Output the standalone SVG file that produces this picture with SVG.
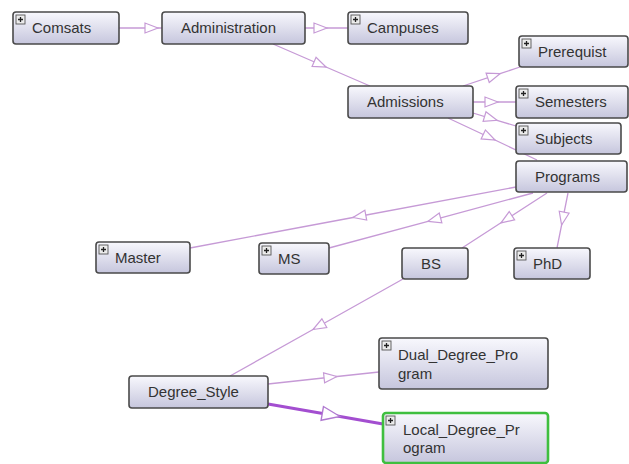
<svg xmlns="http://www.w3.org/2000/svg" width="629" height="464" viewBox="0 0 629 464">
  <defs>
    <linearGradient id="boxFill" x1="0" y1="0" x2="0" y2="1">
      <stop offset="0" stop-color="#f8f8fd"/>
      <stop offset="1" stop-color="#c6c6dd"/>
    </linearGradient>
    <marker id="tri" markerUnits="userSpaceOnUse" markerWidth="16" markerHeight="12" refX="0" refY="0" orient="auto" overflow="visible">
      <path d="M0,0 L-13,-5 L-13,5 Z" fill="#ffffff" stroke="#c69ad6" stroke-width="1.2" stroke-linejoin="miter"/>
    </marker>
    <marker id="triBold" markerUnits="userSpaceOnUse" markerWidth="22" markerHeight="16" refX="0" refY="0" orient="auto" overflow="visible">
      <path d="M0,0 L-18,-7 L-18,7 Z" fill="#ffffff" stroke="#b07ad0" stroke-width="1.4"/>
    </marker>
    <g id="plus">
      <rect x="0" y="0" width="9" height="9" fill="#ececec" stroke="#555" stroke-width="0.9"/>
      <path d="M2,4.5 H7 M4.5,2 V7" stroke="#222" stroke-width="1.3"/>
    </g>
  </defs>
  <style>
    .edge { fill: none; stroke: #c69ad6; stroke-width: 1.3; marker-mid: url(#tri); }
    .edge-bold { fill: none; stroke: #a34ed0; stroke-width: 3.2; marker-mid: url(#triBold); }
    .box { fill: url(#boxFill); stroke: #4a4a4a; stroke-width: 1.6; }
    .box-sel { fill: url(#boxFill); stroke: #3fbf3f; stroke-width: 2.6; }
    .label { font-family: "Liberation Sans", Arial, sans-serif; font-size: 15px; fill: #333; }
  </style>
  <rect width="629" height="464" fill="#ffffff"/>

  <g id="connectors">
    <path class="edge" d="M119,28 L158,28 L162,28"/>
    <path class="edge" d="M305,28 L327,28 L348,28"/>
    <path class="edge" d="M273,44 L326,67 L370,86"/>
    <path class="edge" d="M463,86 L500,73.7 L520,67"/>
    <path class="edge" d="M473,102 L498,102 L516,102"/>
    <path class="edge" d="M473,113 L497,120.3 L516,126"/>
    <path class="edge" d="M448,118 L495,140 L537,160"/>
    <path class="edge" d="M516,187 L353,217.5 L190,248"/>
    <path class="edge" d="M533,193 L428,221.3 L329,248"/>
    <path class="edge" d="M547,193 L501,222.8 L462,248"/>
    <path class="edge" d="M568,193 L561.6,225 L557,248"/>
    <path class="edge" d="M403,279 L313,329.5 L230,376"/>
    <path class="edge" d="M268,384 L337,376.5 L379,372"/>
    <path class="edge-bold" d="M268,404 L340,416.5 L383,424"/>
  </g>

  <g id="node-comsats">
    <rect class="box" x="13" y="12" width="106" height="32" rx="3"/>
    <use href="#plus" x="16" y="15"/>
    <text class="label" x="32" y="33">Comsats</text>
  </g>
  <g id="node-administration">
    <rect class="box" x="162" y="12" width="143" height="32" rx="3"/>
    <text class="label" x="181" y="33">Administration</text>
  </g>
  <g id="node-campuses">
    <rect class="box" x="348" y="12" width="120" height="32" rx="3"/>
    <use href="#plus" x="351" y="15"/>
    <text class="label" x="367" y="33">Campuses</text>
  </g>
  <g id="node-prerequist">
    <rect class="box" x="519" y="36" width="109" height="31" rx="3"/>
    <use href="#plus" x="522" y="39"/>
    <text class="label" x="538" y="57">Prerequist</text>
  </g>
  <g id="node-admissions">
    <rect class="box" x="348" y="86" width="125" height="32" rx="3"/>
    <text class="label" x="367" y="107">Admissions</text>
  </g>
  <g id="node-semesters">
    <rect class="box" x="516" y="86" width="112" height="32" rx="3"/>
    <use href="#plus" x="519" y="89"/>
    <text class="label" x="535" y="107">Semesters</text>
  </g>
  <g id="node-subjects">
    <rect class="box" x="516" y="123" width="105" height="31" rx="3"/>
    <use href="#plus" x="519" y="126"/>
    <text class="label" x="535" y="144">Subjects</text>
  </g>
  <g id="node-programs">
    <rect class="box" x="516" y="161" width="111" height="31" rx="3"/>
    <text class="label" x="535" y="182">Programs</text>
  </g>
  <g id="node-master">
    <rect class="box" x="96" y="242" width="94" height="31" rx="3"/>
    <use href="#plus" x="99" y="245"/>
    <text class="label" x="115" y="263">Master</text>
  </g>
  <g id="node-ms">
    <rect class="box" x="259" y="243" width="70" height="31" rx="3"/>
    <use href="#plus" x="262" y="246"/>
    <text class="label" x="278" y="264">MS</text>
  </g>
  <g id="node-bs">
    <rect class="box" x="402" y="248" width="66" height="31" rx="3"/>
    <text class="label" x="421" y="269">BS</text>
  </g>
  <g id="node-phd">
    <rect class="box" x="514" y="248" width="76" height="31" rx="3"/>
    <use href="#plus" x="517" y="251"/>
    <text class="label" x="533" y="269">PhD</text>
  </g>
  <g id="node-degree-style">
    <rect class="box" x="129" y="376" width="139" height="32" rx="3"/>
    <text class="label" x="148" y="397">Degree_Style</text>
  </g>
  <g id="node-dual-degree-program">
    <rect class="box" x="379" y="338" width="169" height="51" rx="3"/>
    <use href="#plus" x="382" y="341"/>
    <text class="label" x="398" y="360">Dual_Degree_Pro</text>
    <text class="label" x="398" y="379">gram</text>
  </g>
  <g id="node-local-degree-program">
    <rect class="box-sel" x="383" y="413" width="165" height="50" rx="3"/>
    <use href="#plus" x="386" y="416"/>
    <text class="label" x="403" y="435">Local_Degree_Pr</text>
    <text class="label" x="403" y="453">ogram</text>
  </g>
</svg>
